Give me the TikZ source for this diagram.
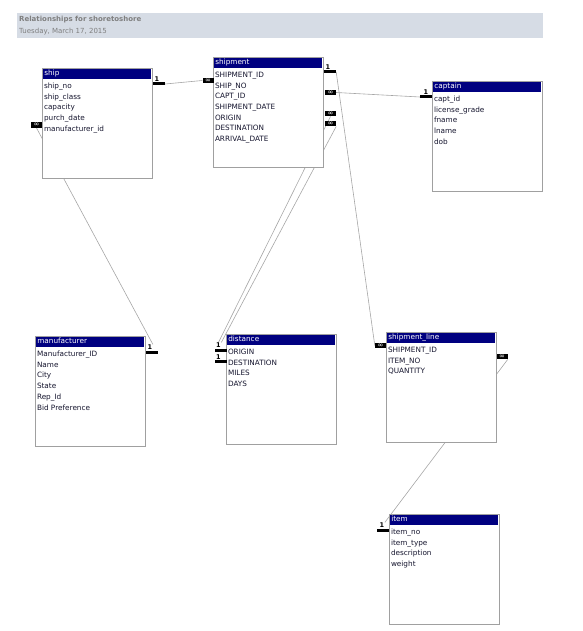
\documentclass[tikz,border=0pt]{standalone}
\usepackage{fontspec}
\setmainfont{DejaVu Sans}
\usepackage{xcolor}
\usetikzlibrary{positioning,backgrounds}
\definecolor{navy}{HTML}{000080}
\definecolor{frame}{HTML}{A0A0A0}
\definecolor{band}{HTML}{D6DCE5}
\definecolor{headtext}{HTML}{7F7F7F}
\definecolor{fieldtext}{HTML}{15152E}
\definecolor{relline}{HTML}{A6A6A6}
\tikzset{
  tbl/.style={draw=frame,line width=1.2pt,fill=white,anchor=north west,minimum width=110pt,minimum height=110pt,inner sep=0pt},
  tbltitle/.style={fill=navy,text=white,anchor=north west,minimum height=10pt,text width=105pt,inner xsep=1.5pt,inner ysep=0pt,align=left,text height=6pt,text depth=1.8pt,font=\fontsize{7.3}{8}\selectfont},
  fields/.style={anchor=north west,align=left,inner sep=1pt,text=fieldtext,font=\fontsize{7.3}{10.7}\selectfont},
  onebar/.style={fill=black,minimum width=12pt,minimum height=3pt,inner sep=0pt},
  onelabel/.style={font=\bfseries\fontsize{6.5}{6.5}\selectfont,inner sep=0.4pt,label distance=0pt},
  manymark/.style={fill=black,text=white,minimum width=11pt,minimum height=5.5pt,inner sep=0pt,font=\fontsize{7}{5}\selectfont},
  rel/.style={draw=relline,line width=0.6pt},
  headline/.style={anchor=west,inner sep=0pt,text=headtext}
}
\begin{document}
\begin{tikzpicture}[x=1pt,y=-1pt]
  \useasboundingbox (0,0) rectangle (582,631);
  % header
  \fill[band] (17,13) rectangle (543,38);
  \node[headline,font=\bfseries\fontsize{7}{8}\selectfont] (doctitle) at (19,19.5) {Relationships for shoretoshore};
  \node[headline,font=\fontsize{7}{8}\selectfont] (docdate) at (19,31.5) {Tuesday, March 17, 2015};
  % tables
  \node[tbl] (ship) at (42,68) {};
  \node[tbltitle] (shiptitle) at ([shift={(0.6pt,-0.6pt)}]ship.north west) {ship};
  \node[fields] (shipfields) at ([shift={(0.8pt,-13.8pt)}]ship.north west) {ship\_no\\ship\_class\\capacity\\purch\_date\\manufacturer\_id};
  \node[tbl] (shipment) at (213,57) {};
  \node[tbltitle] (shipmenttitle) at ([shift={(0.6pt,-0.6pt)}]shipment.north west) {shipment};
  \node[fields] (shipmentfields) at ([shift={(0.8pt,-13.8pt)}]shipment.north west) {SHIPMENT\_ID\\SHIP\_NO\\CAPT\_ID\\SHIPMENT\_DATE\\ORIGIN\\DESTINATION\\ARRIVAL\_DATE};
  \node[tbl] (captain) at (432,81) {};
  \node[tbltitle] (captaintitle) at ([shift={(0.6pt,-0.6pt)}]captain.north west) {captain};
  \node[fields] (captainfields) at ([shift={(0.8pt,-13.8pt)}]captain.north west) {capt\_id\\license\_grade\\fname\\lname\\dob};
  \node[tbl] (manufacturer) at (35,336) {};
  \node[tbltitle] (manufacturertitle) at ([shift={(0.6pt,-0.6pt)}]manufacturer.north west) {manufacturer};
  \node[fields] (manufacturerfields) at ([shift={(0.8pt,-13.8pt)}]manufacturer.north west) {Manufacturer\_ID\\Name\\City\\State\\Rep\_Id\\Bid Preference};
  \node[tbl] (distance) at (226,334) {};
  \node[tbltitle] (distancetitle) at ([shift={(0.6pt,-0.6pt)}]distance.north west) {distance};
  \node[fields] (distancefields) at ([shift={(0.8pt,-13.8pt)}]distance.north west) {ORIGIN\\DESTINATION\\MILES\\DAYS};
  \node[tbl] (shipline) at (386,332) {};
  \node[tbltitle] (shiplinetitle) at ([shift={(0.6pt,-0.6pt)}]shipline.north west) {shipment\_line};
  \node[fields] (shiplinefields) at ([shift={(0.8pt,-13.8pt)}]shipline.north west) {SHIPMENT\_ID\\ITEM\_NO\\QUANTITY};
  \node[tbl] (item) at (389,514) {};
  \node[tbltitle] (itemtitle) at ([shift={(0.6pt,-0.6pt)}]item.north west) {item};
  \node[fields] (itemfields) at ([shift={(0.8pt,-13.8pt)}]item.north west) {item\_no\\item\_type\\description\\weight};
  % relationship ends
  \node[onebar,label={[onelabel,name=shiponelbl,xshift=-2pt]above:1}] (shipone) at (159,84) {};
  \node[manymark] (shipmentmany) at (208,80.5) {∞};
  \node[onebar,label={[onelabel,name=shipmentonelbl,xshift=-2pt]above:1}] (shipmentone) at (330,72) {};
  \node[manymark] (captmany) at (330.5,92.5) {∞};
  \node[manymark] (originmany) at (330.5,113.5) {∞};
  \node[manymark] (destmany) at (330.5,123.5) {∞};
  \node[onebar,label={[onelabel,name=captainonelbl]above:1}] (captainone) at (426,97) {};
  \node[manymark] (shipleftmany) at (36.5,125) {∞};
  \node[onebar,label={[onelabel,name=mfronelbl,xshift=-2pt]above:1}] (mfrone) at (152,352) {};
  \node[onebar,label={[onelabel,name=originonelbl,xshift=-2pt]above:1}] (originone) at (220.5,350) {};
  \node[onebar,label={[onelabel,name=destonelbl,xshift=-2pt]above:1}] (destone) at (220.5,361.5) {};
  \node[manymark] (linemany) at (380.5,345.5) {∞};
  \node[manymark] (linerightmany) at (502,356.5) {∞};
  \node[onebar,label={[onelabel,name=itemonelbl,xshift=-1pt]above:1}] (itemone) at (383,530) {};
  % connectors behind the tables
  \begin{pgfonlayer}{background}
    \draw[rel] (shipone.east) -- (shipmentmany.west);
    \draw[rel] (shipmentone.east) -- (linemany.west);
    \draw[rel] (captmany.east) -- (captainone.west);
    \draw[rel] (originmany.south) -- (originonelbl.north);
    \draw[rel] (destmany.south east) -- (originonelbl.north east);
    \draw[rel] (shipleftmany.south) -- (mfronelbl.north east);
    \draw[rel] (linerightmany.south east) -- (itemonelbl.north east);
  \end{pgfonlayer}
\end{tikzpicture}
\end{document}
